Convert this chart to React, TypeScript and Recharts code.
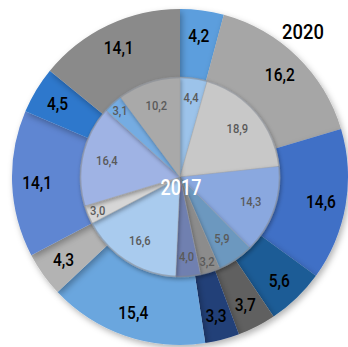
import React from 'react';
import { PieChart, Pie, Cell } from 'recharts';

const segments2020 = ['a', 'b', 'c', 'd', 'e', 'f', 'g', 'h', 'i', 'j', 'k'];
const values2020 = [4.2, 16.2, 14.6, 5.6, 3.7, 3.3, 15.4, 4.3, 14.1, 4.5, 14.1];
const colors2020 = ['#5b9edd', '#a6a6a6', '#3f6fc6', '#1f5c96', '#616161', '#213f78', '#6aa6de', '#b3b3b3', '#5e86d2', '#2f78cc', '#8a8a8a'];

const segments2017 = ['a', 'b', 'c', 'd', 'e', 'f', 'g', 'h', 'i', 'j', 'k'];
const values2017 = [4.4, 18.9, 14.3, 5.9, 3.2, 4.0, 16.6, 3.0, 16.4, 3.1, 10.2];
const colors2017 = ['#9cc3ea', '#c8c8c8', '#8aa8df', '#6c98bf', '#8c8c8c', '#7080b0', '#a9cbee', '#d6d6d6', '#9fb3e4', '#74ace2', '#a9a9a9'];

const outerTitle = '2020';
const innerTitle = '2017';

const data2020 = segments2020.map((s, i) => ({ name: s, value: values2020[i] }));
const data2017 = segments2017.map((s, i) => ({ name: s, value: values2017[i] }));

const FONT = "Roboto, 'DejaVu Sans', sans-serif";
const RAD = Math.PI / 180;

const fmt = (v: number) => v.toFixed(1).replace('.', ',');

const NarrowText = ({ x, y, size, fill, sx, children }: any) => (
  <g transform={`translate(${x},${y}) scale(${sx},1)`}>
    <text x={0} y={0} fill={fill} fontSize={size} fontFamily={FONT} fontWeight={500} textAnchor="middle" dominantBaseline="central">
      {children}
    </text>
  </g>
);

const outerLabel = (p: any) => {
  const r = 143;
  const x = p.cx + r * Math.cos(-p.midAngle * RAD);
  const y = p.cy + r * Math.sin(-p.midAngle * RAD);
  return (
    <NarrowText x={x} y={y} size={18.5} fill="#000" sx={0.84}>
      {fmt(p.value)}
    </NarrowText>
  );
};

const innerLabel = (p: any) => {
  const r = p.percent < 0.035 ? 89 : p.percent < 0.05 ? 80 : 75;
  const x = p.cx + r * Math.cos(-p.midAngle * RAD);
  const y = p.cy + r * Math.sin(-p.midAngle * RAD);
  return (
    <NarrowText x={x} y={y} size={13} fill="#5a5a5a" sx={0.86}>
      {fmt(p.value)}
    </NarrowText>
  );
};

export default function App() {
  return (
    <div style={{ position: 'absolute', left: 0, top: 0, width: 348, height: 347, background: '#fff' }}>
      <PieChart width={348} height={347} margin={{ top: 0, right: 0, bottom: 0, left: 0 }}>
        <defs>
          <filter id="sh" x="-20%" y="-20%" width="140%" height="140%">
            <feDropShadow dx="2" dy="3" stdDeviation="3" floodColor="#000" floodOpacity="0.3" />
          </filter>
          <filter id="sh2" x="-20%" y="-20%" width="140%" height="140%">
            <feDropShadow dx="1" dy="2" stdDeviation="2" floodColor="#000" floodOpacity="0.35" />
          </filter>
        </defs>
        <Pie
          data={data2020}
          dataKey="value"
          cx={180}
          cy={177}
          innerRadius={98}
          outerRadius={168}
          startAngle={90}
          endAngle={-270}
          stroke="none"
          label={outerLabel}
          labelLine={false}
          isAnimationActive={false}
          style={{ filter: 'url(#sh)' }}
        >
          {data2020.map((d, i) => (
            <Cell key={d.name + i} fill={colors2020[i]} />
          ))}
        </Pie>
        <Pie
          data={data2017}
          dataKey="value"
          cx={180}
          cy={177}
          innerRadius={0}
          outerRadius={100}
          startAngle={90}
          endAngle={-270}
          stroke="#9a9a9a"
          strokeWidth={0.3}
          label={innerLabel}
          labelLine={false}
          isAnimationActive={false}
          style={{ filter: 'url(#sh2)' }}
        >
          {data2017.map((d, i) => (
            <Cell key={d.name + i} fill={colors2017[i]} />
          ))}
        </Pie>
      </PieChart>
      <svg width={348} height={347} style={{ position: 'absolute', left: 0, top: 0, pointerEvents: 'none' }}>
        <circle cx={180} cy={177} r={99.5} fill="none" stroke="#7f8590" strokeWidth={1.5} opacity={0.5} />
        <NarrowText x={181} y={187} size={22} fill="#fff" sx={0.82}>
          {innerTitle}
        </NarrowText>
        <NarrowText x={303} y={32} size={20} fill="#000" sx={0.92}>
          {outerTitle}
        </NarrowText>
      </svg>
    </div>
  );
}
